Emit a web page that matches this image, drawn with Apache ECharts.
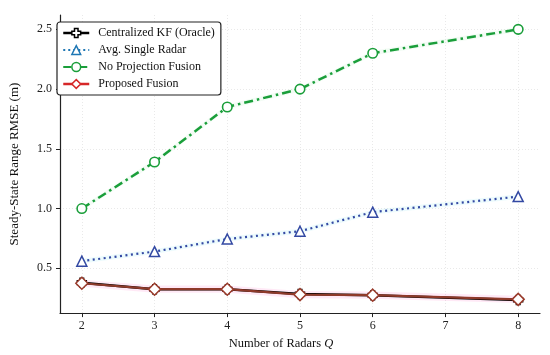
<!DOCTYPE html>
<html><head><meta charset="utf-8">
<script src="https://cdn.jsdelivr.net/npm/echarts@6/dist/echarts.min.js"></script>
<style>html,body{margin:0;padding:0;background:#fff}#c{width:550px;height:355px}</style>
</head><body><div id="c"></div>
<script>
const radars = [2, 3, 4, 5, 6, 8];
const centralizedKF = [0.38, 0.325, 0.325, 0.285, 0.275, 0.235];
const avgSingle = [0.56, 0.64, 0.745, 0.81, 0.97, 1.10];
const noProjection = [1.0, 1.39, 1.85, 2.0, 2.3, 2.5];
const proposed = [0.375, 0.325, 0.325, 0.28, 0.275, 0.24];
const proposedSpread = [0.03, 0.03, 0.03, 0.03, 0.03, 0.03];
const avgSpread = [0.02, 0.02, 0.02, 0.02, 0.02, 0.02];
const noProjSpread = [0.02, 0.02, 0.02, 0.02, 0.02, 0.02];
const xTicks = [2, 3, 4, 5, 6, 7, 8];
const yTicks = [0.5, 1.0, 1.5, 2.0, 2.5];
const names = ['Centralized KF (Oracle)', 'Avg. Single Radar', 'No Projection Fusion', 'Proposed Fusion'];

const FONT = 'Liberation Serif';
const pts = arr => radars.map((x, i) => [x, arr[i]]);
const plusPath = 'path://M3,0h4v3h3v4h-3v3h-4v-3h-3v-4h3z';

function band(vals, spread, color) {
  const data = radars.slice(0, -1).map((x, i) => [x, vals[i] - spread[i], vals[i] + spread[i],
    radars[i + 1], vals[i + 1] - spread[i + 1], vals[i + 1] + spread[i + 1]]);
  return {
    type: 'custom', silent: true, z: 1, data: data,
    encode: { x: [0, 3], y: [1, 2, 4, 5] },
    renderItem: (params, api) => {
      const a = api.coord([api.value(0), api.value(1)]);
      const b = api.coord([api.value(0), api.value(2)]);
      const c = api.coord([api.value(3), api.value(5)]);
      const d = api.coord([api.value(3), api.value(4)]);
      return { type: 'polygon', shape: { points: [a, b, c, d] }, style: { fill: color } };
    }
  };
}

const chart = echarts.init(document.getElementById('c'), null, { renderer: 'canvas' });
chart.setOption({
  animation: false,
  backgroundColor: '#fff',
  textStyle: { fontFamily: FONT },
  grid: { left: 51, right: 10, top: 15, bottom: 41, containLabel: false },
  legend: {
    left: 57, top: 22, orient: 'vertical',
    backgroundColor: '#fff', borderColor: '#222', borderWidth: 1.2, borderRadius: 3,
    padding: [4, 6, 4, 5], itemGap: 3, itemWidth: 26, itemHeight: 11,
    textStyle: { fontFamily: FONT, fontSize: 12, lineHeight: 14, color: '#111', padding: [0, 0, 0, 4] },
    data: [
      { name: names[0], itemStyle: { color: '#fff', borderColor: '#000', borderWidth: 1.5 }, lineStyle: { color: '#000', width: 2.5 } },
      { name: names[1], itemStyle: { color: '#fff', borderColor: '#1f77b4', borderWidth: 1.5 }, lineStyle: { color: '#1f77b4', width: 2, type: [2, 3] } },
      { name: names[2], itemStyle: { color: '#fff', borderColor: '#1a9e3a', borderWidth: 1.5 }, lineStyle: { color: '#1a9e3a', width: 2, type: [8, 3, 2, 3] } },
      { name: names[3], itemStyle: { color: '#fff', borderColor: '#d62728', borderWidth: 1.5 }, lineStyle: { color: '#d62728', width: 2.5 } }
    ]
  },
  xAxis: {
    type: 'value', min: 1.7, max: 8.3,
    name: 'Number of Radars {q|Q}', nameLocation: 'middle', nameGap: 18,
    nameTextStyle: { fontFamily: FONT, fontSize: 12.5, color: '#111', padding: [0, 38, 0, 0],
      rich: { q: { fontFamily: FONT, fontStyle: 'italic', fontSize: 12.5, color: '#111' } } },
    axisLine: { show: true, onZero: false, lineStyle: { color: '#222', width: 1.2 } },
    axisTick: { show: true, customValues: xTicks, length: 4, lineStyle: { color: '#222', width: 1 } },
    axisLabel: { customValues: xTicks, margin: 7, fontFamily: FONT, fontSize: 12, color: '#222' },
    splitLine: { show: true, lineStyle: { color: '#e3e3e3', type: [1, 2], width: 0.8 } }
  },
  yAxis: {
    type: 'value', min: 0.125, max: 2.62,
    name: 'Steady-State Range RMSE (m)', nameLocation: 'middle', nameGap: 39,
    nameTextStyle: { fontFamily: FONT, fontSize: 13, color: '#111' },
    axisLine: { show: true, onZero: false, lineStyle: { color: '#222', width: 1.2 } },
    axisTick: { show: true, customValues: yTicks, length: 4, lineStyle: { color: '#222', width: 1 } },
    axisLabel: { customValues: yTicks, margin: 8, fontFamily: FONT, fontSize: 12, color: '#222',
      formatter: v => v.toFixed(1) },
    splitLine: { show: true, lineStyle: { color: '#e3e3e3', type: [1, 2], width: 0.8 } }
  },
  series: [
    band(proposed, proposedSpread, 'rgba(255,120,200,0.16)'),
    band(avgSingle, avgSpread, 'rgba(80,220,240,0.10)'),
    band(noProjection, noProjSpread, 'rgba(80,210,120,0.07)'),
    { name: names[0], type: 'line', data: pts(centralizedKF), z: 3,
      symbol: plusPath, symbolSize: 9,
      itemStyle: { color: '#fff', borderColor: '#000', borderWidth: 1.5 },
      lineStyle: { color: '#000', width: 2.5 } },
    { name: names[1], type: 'line', data: pts(avgSingle), z: 4,
      symbol: 'triangle', symbolSize: 10,
      itemStyle: { color: '#fff', borderColor: '#3349a3', borderWidth: 1.5 },
      lineStyle: { color: '#3349a3', width: 2.2, type: [2, 3.5] } },
    { name: names[2], type: 'line', data: pts(noProjection), z: 4,
      symbol: 'circle', symbolSize: 9.5,
      itemStyle: { color: '#fff', borderColor: '#1a9e3a', borderWidth: 1.6 },
      lineStyle: { color: '#1a9e3a', width: 2.5, type: [9, 4, 2.5, 4] } },
    { name: names[3], type: 'line', data: pts(proposed), z: 5,
      symbol: 'diamond', symbolSize: 12,
      itemStyle: { color: '#fff', borderColor: '#9a3a2a', borderWidth: 1.5 },
      lineStyle: { color: '#8e3a2a', width: 2.2 } }
  ]
});
</script></body></html>
